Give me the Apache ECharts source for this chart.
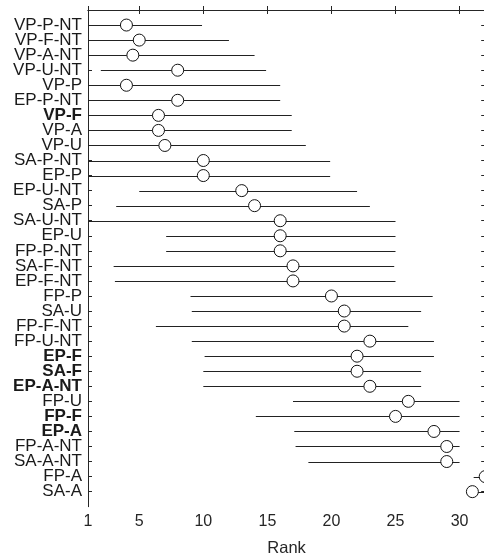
<!DOCTYPE html>
<html>
<head>
<meta charset="utf-8">
<script src="https://cdn.jsdelivr.net/npm/echarts@6/dist/echarts.min.js"></script>
<style>html,body{margin:0;padding:0;background:#fff}#c{width:484px;height:557px}</style>
</head>
<body>
<div id="c"></div>
<script>
var categories = ['VP-P-NT','VP-F-NT','VP-A-NT','VP-U-NT','VP-P','EP-P-NT','VP-F','VP-A','VP-U','SA-P-NT','EP-P','EP-U-NT','SA-P','SA-U-NT','EP-U','FP-P-NT','SA-F-NT','EP-F-NT','FP-P','SA-U','FP-F-NT','FP-U-NT','EP-F','SA-F','EP-A-NT','FP-U','FP-F','EP-A','FP-A-NT','SA-A-NT','FP-A','SA-A'];
var ranks = [4,5,4.5,8,4,8,6.5,6.5,7,10,10,13,14,16,16,16,17,17,20,21,21,23,22,22,23,26,25,28,29,29,32,31];
var lowerBounds = [1,1,1,2,1,1,1,1,1,1,1,5,3.2,1,7.1,7.1,3,3.1,9,9.1,6.3,9.1,10.1,10,10,17,14.1,17.1,17.2,18.2,31.1,31];
var upperBounds = [9.9,12,14,14.9,16,16,16.9,16.9,18,19.9,19.9,22,23,25,25,25,24.9,25,27.9,27,26,28,28,27,27,30,30,30,30,30,32,32];
var boldLabels = ['VP-F','EP-F','SA-F','EP-A-NT','FP-F','EP-A'];
var xTicks = [1,5,10,15,20,25,30];

var rowPos = categories.map(function(c,i){return i+1;});
var lineData = categories.map(function(c,i){return [lowerBounds[i], upperBounds[i], i+1];});
var pointData = categories.map(function(c,i){return [ranks[i], i+1];});

var axisColor = '#262626';
var chart = echarts.init(document.getElementById('c'));
chart.setOption({
  animation:false,
  grid:{left:88, top:10, right:-1.2, bottom:50.3, containLabel:false, outerBoundsMode:'none'},
  xAxis:[{
    type:'value', min:1, max:32, position:'bottom',
    name:'Rank', nameLocation:'middle', nameGap:33,
    nameTextStyle:{fontFamily:'Liberation Sans', fontSize:16.5, color:'#262626'},
    axisLine:{show:true, lineStyle:{color:axisColor, width:1}},
    axisTick:{show:true, inside:true, length:4, customValues:xTicks, lineStyle:{color:axisColor}},
    axisLabel:{customValues:xTicks, showMinLabel:true, hideOverlap:false, fontFamily:'Liberation Sans', fontSize:16, color:'#262626', margin:7},
    splitLine:{show:false}
  },{
    type:'value', min:1, max:32, position:'top',
    axisLine:{show:true, onZero:false, lineStyle:{color:axisColor, width:1}},
    axisTick:{show:true, inside:true, length:4, customValues:xTicks, lineStyle:{color:axisColor}},
    axisLabel:{show:false}, splitLine:{show:false}
  }],
  yAxis:[{
    type:'value', min:0, max:33, interval:1, inverse:true, position:'left',
    axisLine:{show:true, onZero:false, lineStyle:{color:axisColor, width:1}},
    axisTick:{show:true, inside:true, length:4, customValues:rowPos, lineStyle:{color:axisColor}},
    axisLabel:{
      showMinLabel:true, showMaxLabel:true, hideOverlap:false,
      margin:6, fontFamily:'Liberation Sans', fontSize:17, color:'#1a1a1a',
      formatter:function(v){
        var n = categories[Math.round(v)-1];
        if(!n) return '';
        return boldLabels.indexOf(n)>=0 ? '{b|'+n+'}' : n;
      },
      rich:{b:{fontFamily:'Liberation Sans', fontSize:17, fontWeight:'bold', color:'#1a1a1a'}}
    },
    splitLine:{show:false}
  },{
    type:'value', min:0, max:33, inverse:true, position:'right',
    axisLine:{show:true, onZero:false, lineStyle:{color:axisColor, width:1}},
    axisTick:{show:true, inside:true, length:4, customValues:rowPos, lineStyle:{color:axisColor}},
    axisLabel:{show:false}, splitLine:{show:false}
  }],
  series:[{
    type:'custom', xAxisIndex:0, yAxisIndex:0, clip:true,
    data:lineData,
    renderItem:function(params, api){
      var p1 = api.coord([api.value(0), api.value(2)]);
      var p2 = api.coord([api.value(1), api.value(2)]);
      return {type:'line', shape:{x1:p1[0], y1:Math.round(p1[1])+0.5, x2:p2[0], y2:Math.round(p2[1])+0.5},
        style:{stroke:'#222', lineWidth:1}};
    },
    z:2
  },{
    type:'scatter', xAxisIndex:0, yAxisIndex:0, clip:true,
    data:pointData, symbol:'circle', symbolSize:12,
    itemStyle:{color:'#fff', borderColor:'#111', borderWidth:1, opacity:1},
    z:3
  }]
});
</script>
</body>
</html>
